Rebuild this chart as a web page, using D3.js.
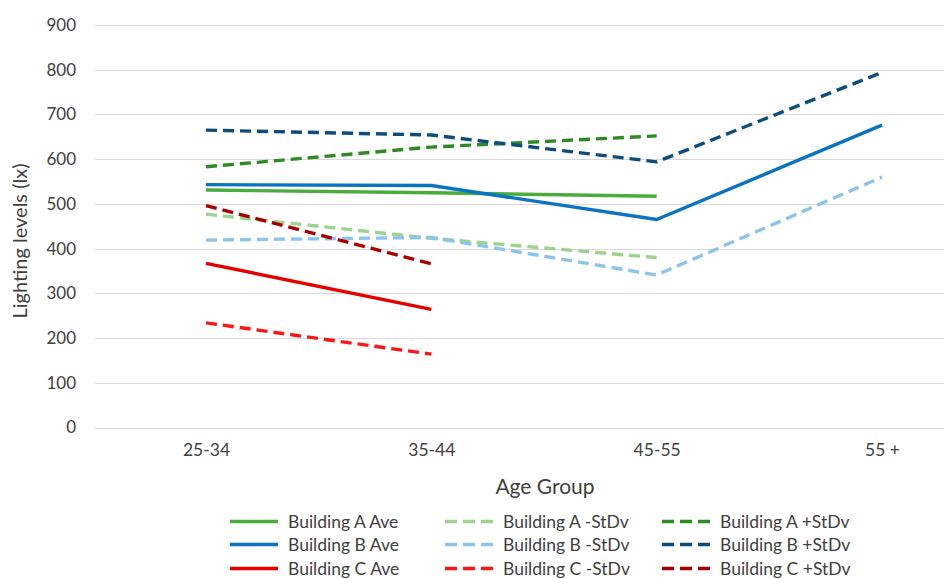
<!DOCTYPE html>
<html>
<head>
<meta charset="utf-8">
<script src="https://cdn.jsdelivr.net/npm/d3@7"></script>
<style>
  body { margin: 0; background: #fff; }
  text { font-family: Lato, "Open Sans", sans-serif; fill: #404040; }
</style>
</head>
<body>
<div id="chart"></div>
<script>
// categories + values
var ageGroups = ["25-34", "35-44", "45-55", "55 +"];
var yTicks = [0, 100, 200, 300, 400, 500, 600, 700, 800, 900];

var aAve   = [531, 525, 517, null];
var aMinus = [477, 423, 380, null];
var aPlus  = [583, 627, 652, null];
var bAve   = [543, 541, 465, 676];
var bMinus = [419, 425, 341, 560];
var bPlus  = [665, 654, 594, 794];
var cAve   = [367, 264, null, null];
var cMinus = [234, 164, null, null];
var cPlus  = [496, 366, null, null];

var series = [
    {name: "Building A Ave",   values: aAve,   color: "#4aac3c", dash: null},
    {name: "Building A -StDv", values: aMinus, color: "#9dd38c", dash: "11,6"},
    {name: "Building A +StDv", values: aPlus,  color: "#2e8b24", dash: "11,6"},
    {name: "Building B Ave",   values: bAve,   color: "#0a73c2", dash: null},
    {name: "Building B -StDv", values: bMinus, color: "#8cc5eb", dash: "11,6"},
    {name: "Building B +StDv", values: bPlus,  color: "#0c4d7c", dash: "11,6"},
    {name: "Building C Ave",   values: cAve,   color: "#e60000", dash: null},
    {name: "Building C -StDv", values: cMinus, color: "#ff1414", dash: "11,6"},
    {name: "Building C +StDv", values: cPlus,  color: "#a80000", dash: "11,6"}
];

var W = 944, H = 579;
var svg = d3.select("#chart").append("svg")
    .attr("width", W)
    .attr("height", H);

var x = d3.scalePoint()
    .domain(ageGroups)
    .range([206, 882]);

var y = d3.scaleLinear()
    .domain([0, 900])
    .range([427.5, 25]);

// gridlines
svg.append("g").selectAll("line.grid")
    .data(yTicks)
    .enter().append("line")
    .attr("class", "grid")
    .attr("x1", 95)
    .attr("x2", W)
    .attr("y1", function(d) { return Math.round(y(d)) + 0.5; })
    .attr("y2", function(d) { return Math.round(y(d)) + 0.5; })
    .attr("stroke", "#d9d9d9")
    .attr("stroke-width", 1);

// y ticks
var yAxis = d3.axisLeft(y).tickValues(yTicks).tickSize(0).tickPadding(0);
var gy = svg.append("g")
    .attr("transform", "translate(76,0)")
    .call(yAxis);
gy.select(".domain").remove();
gy.selectAll("text")
    .attr("font-family", "Lato, sans-serif")
    .attr("font-size", "17px")
    .attr("fill", "#404040");

// x ticks
var xAxis = d3.axisBottom(x).tickSize(0).tickPadding(0);
var gx = svg.append("g")
    .attr("transform", "translate(0,444)")
    .call(xAxis);
gx.select(".domain").remove();
gx.selectAll("text")
    .attr("font-family", "Lato, sans-serif")
    .attr("font-size", "17.5px")
    .attr("fill", "#404040");

// axis titles
svg.append("text")
    .attr("x", 545)
    .attr("y", 494)
    .attr("text-anchor", "middle")
    .attr("font-size", "21px")
    .text("Age Group");

svg.append("text")
    .attr("transform", "translate(27,241)rotate(-90)")
    .attr("text-anchor", "middle")
    .attr("font-size", "20px")
    .text("Lighting levels (lx)");

// lines
var line = d3.line()
    .defined(function(d) { return d.v != null; })
    .x(function(d) { return x(d.k); })
    .y(function(d) { return y(d.v); });

svg.append("g").selectAll("path.series")
    .data(series)
    .enter().append("path")
    .attr("class", "series")
    .attr("d", function(s) {
        return line(s.values.map(function(v, i) { return {k: ageGroups[i], v: v}; }));
    })
    .attr("fill", "none")
    .attr("stroke", function(s) { return s.color; })
    .attr("stroke-width", 3.4)
    .attr("stroke-linejoin", "round")
    .attr("stroke-dasharray", function(s) { return s.dash; });

// legend, 3 columns x 3 rows
var legendCols = [230, 445, 662];
var legendRows = [521.5, 544.5, 568.5];
var legend = svg.append("g").selectAll("g.leg")
    .data(series)
    .enter().append("g")
    .attr("class", "leg")
    .attr("transform", function(s, i) {
        return "translate(" + legendCols[i % 3] + "," + legendRows[Math.floor(i / 3)] + ")";
    });

legend.append("line")
    .attr("x1", 0)
    .attr("x2", 48)
    .attr("stroke", function(s) { return s.color; })
    .attr("stroke-width", 3.4)
    .attr("stroke-dasharray", function(s) { return s.dash ? "12,6" : null; });

legend.append("text")
    .attr("x", 58)
    .attr("dy", "0.35em")
    .attr("font-size", "17.5px")
    .attr("fill", "#404040")
    .text(function(s) { return s.name; });
</script>
</body>
</html>
